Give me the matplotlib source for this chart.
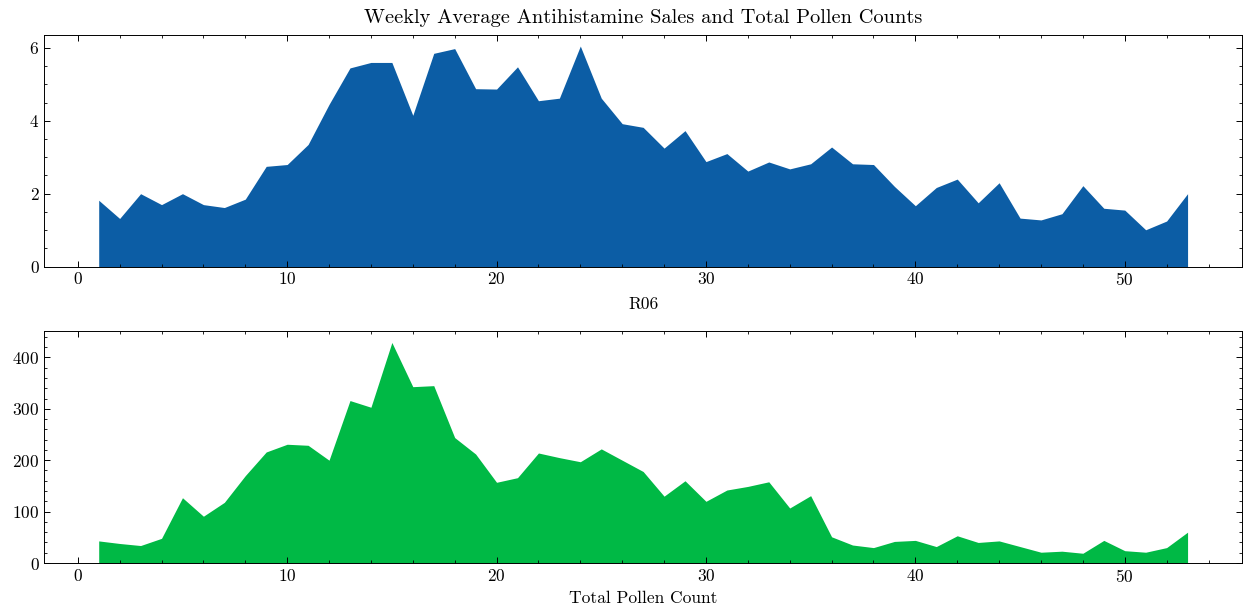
import numpy as np
import matplotlib
matplotlib.use("Agg")
import matplotlib.pyplot as plt
from matplotlib.ticker import MultipleLocator

# weekly values
weeks = list(range(1, 54))
r06_sales = [1.82, 1.32, 2.00, 1.70, 2.00, 1.70, 1.62, 1.85, 2.75, 2.80,
             3.35, 4.45, 5.45, 5.60, 5.60, 4.15, 5.85, 5.98, 4.88, 4.87,
             5.48, 4.55, 4.62, 6.05, 4.62, 3.92, 3.82, 3.25, 3.73, 2.88,
             3.10, 2.62, 2.87, 2.68, 2.82, 3.28, 2.82, 2.80, 2.20, 1.67,
             2.17, 2.40, 1.75, 2.30, 1.33, 1.28, 1.45, 2.22, 1.60, 1.55,
             1.01, 1.25, 2.00]
pollen = [43, 38, 34, 48, 127, 91, 118, 170, 216, 231,
          229, 200, 316, 303, 429, 343, 345, 244, 212, 157,
          166, 214, 205, 197, 222, 200, 178, 130, 160, 120,
          142, 149, 158, 107, 131, 51, 35, 30, 42, 44,
          32, 53, 40, 43, 32, 21, 23, 19, 44, 24,
          21, 30, 60]

plt.rcParams['font.family'] = 'serif'
plt.rcParams['font.serif'] = ['cmr10', 'DejaVu Serif']
plt.rcParams['mathtext.fontset'] = 'cm'
plt.rcParams['axes.formatter.use_mathtext'] = True
plt.rcParams['font.size'] = 12.5
plt.rcParams['axes.linewidth'] = 0.7
for ax_ in ['xtick', 'ytick']:
    plt.rcParams[ax_ + '.direction'] = 'in'
    plt.rcParams[ax_ + '.major.size'] = 4
    plt.rcParams[ax_ + '.minor.size'] = 2
    plt.rcParams[ax_ + '.major.width'] = 0.7
    plt.rcParams[ax_ + '.minor.width'] = 0.6
    plt.rcParams[ax_ + '.minor.visible'] = True
plt.rcParams['xtick.top'] = True
plt.rcParams['ytick.right'] = True

fig, (ax1, ax2) = plt.subplots(2, 1, figsize=(12.47, 6.09), dpi=100)
fig.subplots_adjust(left=0.0355, right=0.996, top=0.9425, bottom=0.0755, hspace=0.28)

ax1.fill_between(weeks, r06_sales, color='#0C5DA5', lw=0)
ax1.set_ylim(bottom=0)
ax1.yaxis.set_major_locator(MultipleLocator(2))
ax1.yaxis.set_minor_locator(MultipleLocator(0.5))
ax1.set_xlabel('R06', labelpad=6)
ax1.set_title('Weekly Average Antihistamine Sales and Total Pollen Counts',
              fontsize=14.7, pad=8.5)

ax2.fill_between(weeks, pollen, color='#00B945', lw=0)
ax2.set_ylim(bottom=0)
ax2.set_xlabel('Total Pollen Count')

plt.savefig('out.png', dpi=100)
